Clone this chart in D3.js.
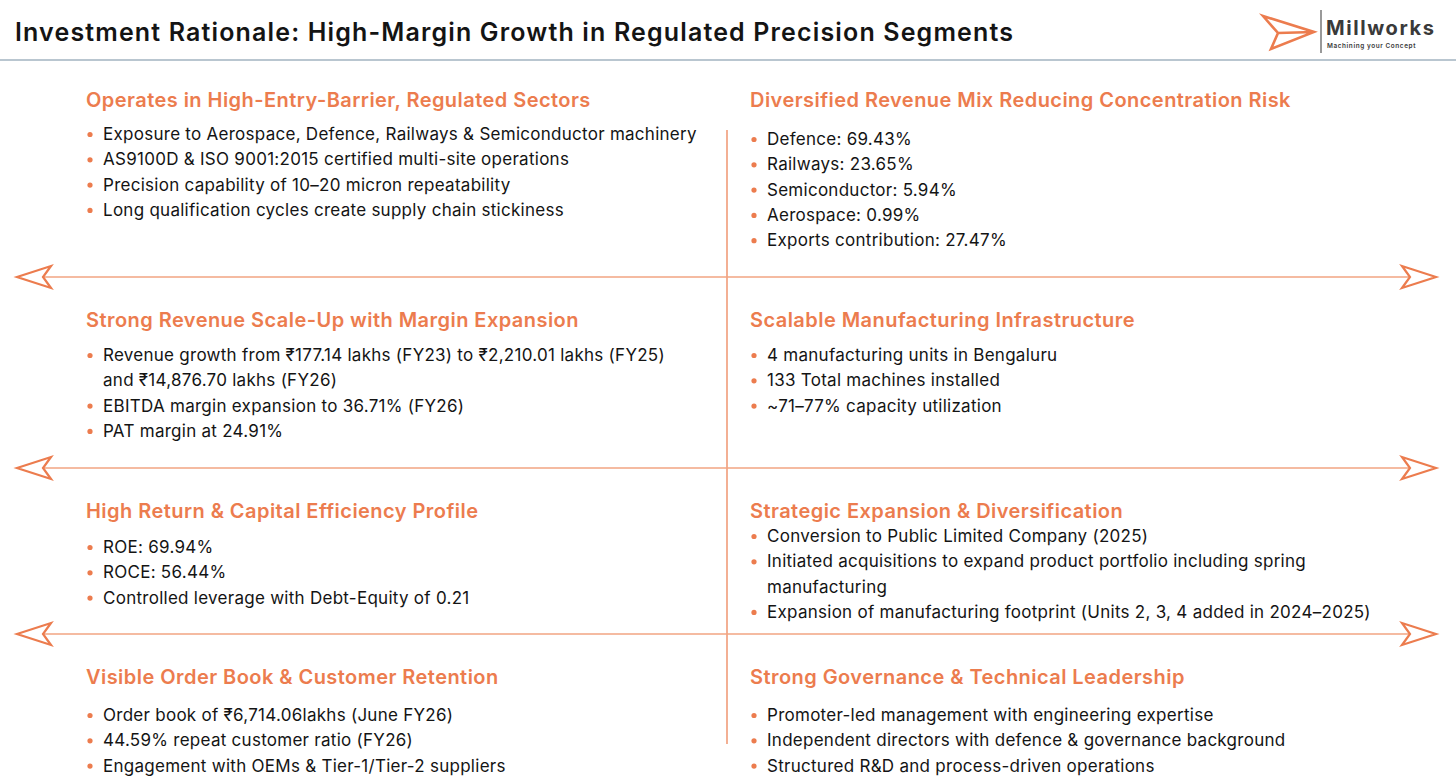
<!DOCTYPE html>
<html>
<head>
<meta charset="utf-8">
<script src="https://cdn.jsdelivr.net/npm/d3@7"></script>
<style>
  html, body { margin: 0; padding: 0; background: #fff; }
  svg { display: block; }
</style>
</head>
<body>
<svg id="sheet"></svg>
<script>
// page text
const pageTitle = "Investment Rationale: High-Margin Growth in Regulated Precision Segments";
const brandName = "Millworks";
const brandTag = "Machining your Concept";

// panel headings, row by row (left, right)
const headings = [
  "Operates in High-Entry-Barrier, Regulated Sectors",
  "Diversified Revenue Mix Reducing Concentration Risk",
  "Strong Revenue Scale-Up with Margin Expansion",
  "Scalable Manufacturing Infrastructure",
  "High Return & Capital Efficiency Profile",
  "Strategic Expansion & Diversification",
  "Visible Order Book & Customer Retention",
  "Strong Governance & Technical Leadership"
];

// bullets per panel ("\n" = the line wraps there)
const bulletsSectors = [
  "Exposure to Aerospace, Defence, Railways & Semiconductor machinery",
  "AS9100D & ISO 9001:2015 certified multi-site operations",
  "Precision capability of 10–20 micron repeatability",
  "Long qualification cycles create supply chain stickiness"
];
const bulletsRevenueMix = [
  "Defence: 69.43%",
  "Railways: 23.65%",
  "Semiconductor: 5.94%",
  "Aerospace: 0.99%",
  "Exports contribution: 27.47%"
];
const bulletsScaleUp = [
  "Revenue growth from ₹177.14 lakhs (FY23) to ₹2,210.01 lakhs (FY25)\nand ₹14,876.70 lakhs (FY26)",
  "EBITDA margin expansion to 36.71% (FY26)",
  "PAT margin at 24.91%"
];
const bulletsInfra = [
  "4 manufacturing units in Bengaluru",
  "133 Total machines installed",
  "~71–77% capacity utilization"
];
const bulletsReturns = [
  "ROE: 69.94%",
  "ROCE: 56.44%",
  "Controlled leverage with Debt-Equity of 0.21"
];
const bulletsExpansion = [
  "Conversion to Public Limited Company (2025)",
  "Initiated acquisitions to expand product portfolio including spring\nmanufacturing",
  "Expansion of manufacturing footprint (Units 2, 3, 4 added in 2024–2025)"
];
const bulletsOrderBook = [
  "Order book of ₹6,714.06lakhs (June FY26)",
  "44.59% repeat customer ratio (FY26)",
  "Engagement with OEMs & Tier-1/Tier-2 suppliers"
];
const bulletsGovernance = [
  "Promoter-led management with engineering expertise",
  "Independent directors with defence & governance background",
  "Structured R&D and process-driven operations"
];

const bulletLists = [
  bulletsSectors, bulletsRevenueMix,
  bulletsScaleUp, bulletsInfra,
  bulletsReturns, bulletsExpansion,
  bulletsOrderBook, bulletsGovernance
];

// ---- layout ----
const width = 1456, height = 783;
const orange = "#ec7c4e";
const ink = "#141414";
const font = "Inter, 'Open Sans', sans-serif";

const svg = d3.select("#sheet")
  .attr("width", width)
  .attr("height", height)
  .attr("viewBox", `0 0 ${width} ${height}`);

// columns
const colX = d3.scaleOrdinal().domain([0, 1]).range([86, 750]);
// heading baseline per row
const headY = d3.scaleOrdinal().domain([0, 1, 2, 3]).range([107, 327, 518, 684]);
// first bullet baseline per panel (some panels sit tighter under the heading)
const firstBulletY = [140, 145, 361, 361, 553, 542, 721, 721];
const lineStep = 25.3;
// separators between rows
const sepY = [277, 468, 634];

// header
svg.append("text")
  .attr("x", 15)
  .attr("y", 41)
  .style("font-family", font)
  .style("font-size", "25px")
  .style("font-weight", 600)
  .style("letter-spacing", "1.15px")
  .style("fill", ink)
  .text(pageTitle);

svg.append("line")
  .attr("x1", 0).attr("x2", width)
  .attr("y1", 60).attr("y2", 60)
  .style("stroke", "#b9c6d0")
  .style("stroke-width", 2);

// logo
const logo = svg.append("g");
logo.append("path")
  .attr("d", "M1263,16 L1314,32 L1271,49 L1278,33 Z M1278,33 L1314,32")
  .style("fill", "none")
  .style("stroke", orange)
  .style("stroke-width", 2.6)
  .style("stroke-linejoin", "miter");
logo.append("line")
  .attr("x1", 1321).attr("x2", 1321)
  .attr("y1", 10).attr("y2", 53)
  .style("stroke", "#555")
  .style("stroke-width", 1.2);
logo.append("text")
  .attr("x", 1326).attr("y", 35)
  .style("font-family", font)
  .style("font-size", "20px")
  .style("font-weight", 700)
  .style("letter-spacing", "1.6px")
  .style("fill", "#3a3a3a")
  .text(brandName);
logo.append("text")
  .attr("x", 1327).attr("y", 48)
  .style("font-family", font)
  .style("font-size", "6.4px")
  .style("font-weight", 600)
  .style("letter-spacing", "0.6px")
  .style("fill", "#3a3a3a")
  .text(brandTag);

// vertical divider
svg.append("line")
  .attr("x1", 727).attr("x2", 727)
  .attr("y1", 130).attr("y2", 744)
  .style("stroke", "#ee8e66")
  .style("stroke-width", 1.4);

// horizontal dividers with paper-plane arrow heads
const seps = svg.selectAll(".sep")
  .data(sepY)
  .enter().append("g")
  .attr("class", "sep")
  .attr("transform", d => `translate(0,${d})`);

seps.append("line")
  .attr("x1", 42).attr("x2", 1410)
  .attr("y1", 0).attr("y2", 0)
  .style("stroke", "#f2a482")
  .style("stroke-width", 1.4);

seps.append("path")
  .attr("d", "M17,0 L51,-11 L43,0 L51,11 Z")
  .style("fill", "none")
  .style("stroke", orange)
  .style("stroke-width", 2.2)
  .style("stroke-linejoin", "miter");

seps.append("path")
  .attr("d", "M1436,0 L1402,-11 L1410,0 L1402,11 Z")
  .style("fill", "none")
  .style("stroke", orange)
  .style("stroke-width", 2.2)
  .style("stroke-linejoin", "miter");

// panels
const panels = svg.selectAll(".panel")
  .data(headings.map((h, i) => ({ heading: h, bullets: bulletLists[i], i })))
  .enter().append("g")
  .attr("class", "panel");

panels.append("text")
  .attr("x", d => colX(d.i % 2))
  .attr("y", d => headY(Math.floor(d.i / 2)))
  .style("font-family", font)
  .style("font-size", "20px")
  .style("font-weight", 600)
  .style("letter-spacing", "0.45px")
  .style("fill", orange)
  .text(d => d.heading);

panels.each(function(p) {
  const g = d3.select(this);
  const x0 = colX(p.i % 2);
  let y = firstBulletY[p.i];
  p.bullets.forEach(b => {
    const lines = b.split("\n");
    g.append("circle")
      .attr("cx", x0 + 4)
      .attr("cy", y - 5.5)
      .attr("r", 2.6)
      .style("fill", orange);
    lines.forEach(l => {
      g.append("text")
        .attr("x", x0 + 17)
        .attr("y", y)
        .style("font-family", font)
        .style("font-size", "17px")
        .style("letter-spacing", "0.27px")
        .style("fill", ink)
        .text(l);
      y += lineStep;
    });
  });
});
</script>
</body>
</html>
